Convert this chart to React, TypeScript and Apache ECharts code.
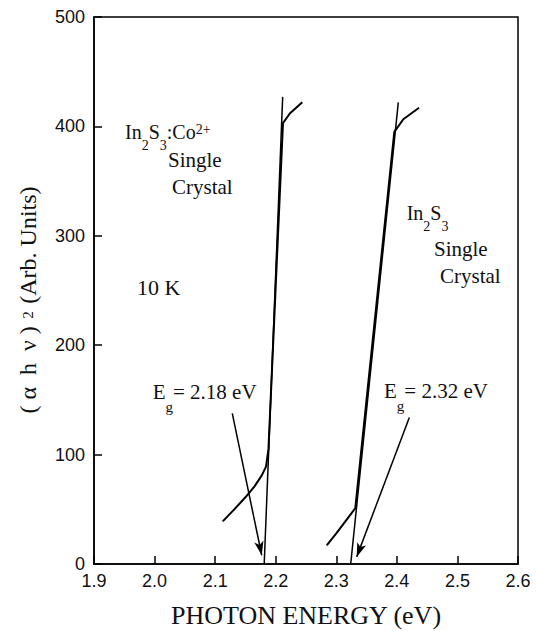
import React, { useEffect, useRef } from "react";
import * as echarts from "echarts";

// ---- data (photon energy eV, (αhν)^2 arb. units) ----
const xTickLabels = ["1.9", "2.0", "2.1", "2.2", "2.3", "2.4", "2.5", "2.6"];
const yTickLabels = ["0", "100", "200", "300", "400", "500"];

const coData: number[][] = [
  [2.1125, 39], [2.13, 49], [2.15, 61], [2.165, 71], [2.177, 81], [2.184, 89],
  [2.188, 105], [2.212, 403], [2.2236, 412], [2.2439, 422],
];
const coFit: number[][] = [[2.181, 0], [2.2115, 427]];

const pureData: number[][] = [
  [2.2842, 17], [2.3, 28], [2.315, 39], [2.3314, 51], [2.3958, 395],
  [2.4107, 406.5], [2.4366, 417],
];
const pureFit: number[][] = [[2.3238, 0], [2.4024, 422]];

const arrowCo: number[][] = [[2.1283, 137.7], [2.1769, 8]];
const arrowPure: number[][] = [[2.4206, 134], [2.3337, 6.5]];

const SERIF = "'Liberation Serif', 'DejaVu Serif', serif";
const SANS = "'Liberation Sans', Arial, sans-serif";

const richStyles = {
  n: { fontSize: 20, fontFamily: SERIF, fill: "#111", lineHeight: 20, verticalAlign: "top" },
  sub: { fontSize: 14, fontFamily: SERIF, fill: "#111", lineHeight: 30, verticalAlign: "bottom" },
  sup: { fontSize: 14, fontFamily: SERIF, fill: "#111", lineHeight: 14, verticalAlign: "top" },
  e: { fontSize: 21, fontFamily: SERIF, fill: "#111", lineHeight: 21, verticalAlign: "top" },
  esub: { fontSize: 15, fontFamily: SERIF, fill: "#111", lineHeight: 33, verticalAlign: "bottom" },
};

function txt(x: number, y: number, text: string, fontSize = 20) {
  return {
    type: "text",
    x,
    y,
    style: {
      text,
      rich: richStyles,
      fontSize,
      fontFamily: SERIF,
      fill: "#111",
      align: "left",
      verticalAlign: "top",
    },
  };
}

export default function App() {
  const ref = useRef<HTMLDivElement>(null);
  useEffect(() => {
    if (!ref.current) return;
    const chart = echarts.init(ref.current, undefined, { renderer: "svg" });
    const lineStyle = (w: number) => ({ color: "#000", width: w });
    chart.setOption({
      animation: false,
      backgroundColor: "#fff",
      grid: {
        left: 94,
        right: 18,
        top: 17,
        bottom: 67,
        show: true,
        borderColor: "#000",
        borderWidth: 1.5,
      },
      xAxis: {
        type: "value",
        min: 1.9,
        max: 2.6,
        interval: 0.1,
        axisLine: { show: true, onZero: false, lineStyle: { color: "#000", width: 1.5 } },
        axisTick: { show: true, inside: true, length: 8, lineStyle: { color: "#000", width: 1.5 } },
        axisLabel: {
          color: "#111",
          fontSize: 18,
          fontFamily: SANS,
          margin: 8,
          formatter: (v: number) => xTickLabels[Math.round((v - 1.9) * 10)] ?? "",
        },
        splitLine: { show: false },
      },
      yAxis: {
        type: "value",
        min: 0,
        max: 500,
        interval: 100,
        axisLine: { show: true, lineStyle: { color: "#000", width: 1.5 } },
        axisTick: { show: true, inside: true, length: 8, lineStyle: { color: "#000", width: 1.5 } },
        axisLabel: {
          color: "#111",
          fontSize: 18,
          fontFamily: SANS,
          margin: 9,
          formatter: (v: number) => yTickLabels[Math.round(v / 100)] ?? "",
        },
        splitLine: { show: false },
      },
      series: [
        { type: "line", data: coData, showSymbol: false, lineStyle: lineStyle(2), silent: true },
        { type: "line", data: pureData, showSymbol: false, lineStyle: lineStyle(2), silent: true },
        { type: "line", data: coFit, showSymbol: false, lineStyle: lineStyle(1.5), silent: true },
        {
          type: "line",
          data: pureFit,
          showSymbol: false,
          lineStyle: lineStyle(1.5),
          silent: true,
          markLine: {
            silent: true,
            animation: false,
            symbol: ["none", "arrow"],
            symbolSize: [7, 14],
            label: { show: false },
            lineStyle: { color: "#000", width: 1.5, type: "solid" },
            emphasis: { disabled: true },
            data: [
              [{ coord: arrowCo[0] }, { coord: arrowCo[1] }],
              [{ coord: arrowPure[0] }, { coord: arrowPure[1] }],
            ],
          },
        },
      ],
      graphic: [
        txt(125, 122, "{n|In}{sub|2}{n|S}{sub|3}{n|:Co}{sup|2+}"),
        txt(168, 149, "Single", 21),
        txt(172, 176, "Crystal", 21),
        txt(406.7, 203, "{n|In}{sub|2}{n|S}{sub|3}"),
        txt(434, 238, "Single", 21),
        txt(440, 265, "Crystal", 21),
        txt(137, 276, "10 K", 22),
        txt(152.7, 381, "{e|E}{esub|g}{e|= 2.18 eV}"),
        txt(384, 380, "{e|E}{esub|g}{e|= 2.32 eV}"),
        {
          type: "text",
          x: 306,
          y: 615,
          style: {
            text: "PHOTON ENERGY (eV)",
            fontSize: 26,
            fontFamily: SERIF,
            fill: "#111",
            align: "center",
            verticalAlign: "middle",
          },
        },
        {
          type: "text",
          x: 28,
          y: 300,
          rotation: Math.PI / 2,
          style: {
            text: "{m|( α  h  ν )}{s|  2  }{m|(Arb. Units)}",
            rich: {
              m: { fontSize: 24, fontFamily: SERIF, fill: "#111", lineHeight: 26, verticalAlign: "middle" },
              s: { fontSize: 15, fontFamily: SERIF, fill: "#111", lineHeight: 26, verticalAlign: "middle" },
            },
            align: "center",
            verticalAlign: "middle",
          },
        },
      ],
    });
    return () => chart.dispose();
  }, []);
  return (
    <div
      ref={ref}
      style={{ position: "fixed", left: 0, top: 0, width: 536, height: 631 }}
    />
  );
}
